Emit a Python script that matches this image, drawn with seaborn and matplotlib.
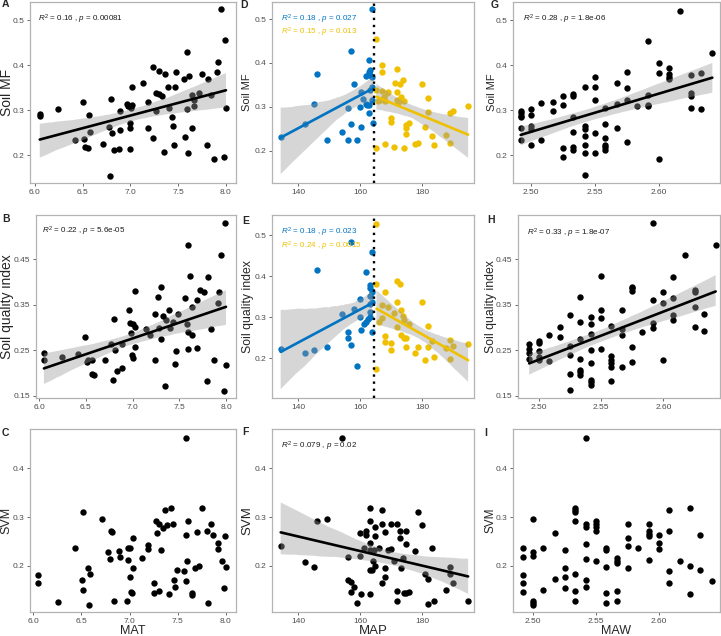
import numpy as np
import pandas as pd
import matplotlib
matplotlib.use("Agg")
import matplotlib.pyplot as plt
from matplotlib.collections import PolyCollection
import seaborn as sns

# ---- panel A: MAT vs Soil MF
mat_a = [6.05, 6.05, 6.24, 6.42, 6.50, 6.51, 6.52, 6.56, 6.57, 6.58, 6.71, 6.77, 6.79, 6.80, 6.81, 6.83, 6.88,
         6.89, 6.89, 6.96, 6.97, 6.99, 6.99, 7.00, 7.01, 7.02, 7.02, 7.13, 7.18, 7.18, 7.24, 7.24, 7.27, 7.27,
         7.30, 7.30, 7.33, 7.35, 7.36, 7.39, 7.40, 7.43, 7.45, 7.46, 7.47, 7.48, 7.57, 7.56, 7.59, 7.59, 7.60,
         7.61, 7.64, 7.64, 7.67, 7.67, 7.72, 7.75, 7.80, 7.81, 7.84, 7.87, 7.91, 7.92, 7.95, 7.98, 7.99, 8.00]
mf_a = [0.292, 0.286, 0.302, 0.233, 0.319, 0.235, 0.217, 0.216, 0.288, 0.251, 0.224, 0.263, 0.154, 0.324, 0.250,
        0.212, 0.213, 0.297, 0.255, 0.314, 0.308, 0.214, 0.272, 0.260, 0.305, 0.311, 0.351, 0.361, 0.317, 0.260,
        0.396, 0.238, 0.338, 0.299, 0.387, 0.335, 0.332, 0.206, 0.379, 0.352, 0.304, 0.285, 0.264, 0.223, 0.352,
        0.384, 0.241, 0.369, 0.428, 0.303, 0.205, 0.375, 0.260, 0.333, 0.310, 0.322, 0.338, 0.379, 0.222, 0.370,
        0.334, 0.192, 0.384, 0.406, 0.524, 0.195, 0.456, 0.305]

# ---- panel B: MAT vs soil quality index
mat_b = [6.05, 6.05, 6.24, 6.42, 6.49, 6.51, 6.52, 6.56, 6.56, 6.59, 6.70, 6.77, 6.79, 6.80, 6.81, 6.83, 6.89,
         6.89, 6.96, 6.97, 6.98, 6.99, 7.00, 7.00, 7.02, 7.02, 7.02, 7.14, 7.19, 7.24, 7.24, 7.27, 7.28, 7.30,
         7.30, 7.33, 7.35, 7.36, 7.39, 7.40, 7.43, 7.46, 7.45, 7.49, 7.56, 7.58, 7.59, 7.59, 7.59, 7.61, 7.64,
         7.64, 7.69, 7.69, 7.72, 7.76, 7.80, 7.81, 7.84, 7.87, 7.91, 7.93, 7.95, 7.98, 7.99, 8.00]
sqi_b = [0.245, 0.230, 0.235, 0.243, 0.280, 0.225, 0.229, 0.228, 0.198, 0.196, 0.228, 0.265, 0.185, 0.319, 0.250,
         0.205, 0.212, 0.263, 0.338, 0.310, 0.289, 0.239, 0.233, 0.307, 0.302, 0.258, 0.381, 0.296, 0.284, 0.329,
         0.228, 0.368, 0.300, 0.389, 0.275, 0.326, 0.173, 0.316, 0.338, 0.300, 0.313, 0.249, 0.221, 0.329, 0.364,
         0.307, 0.481, 0.291, 0.252, 0.414, 0.345, 0.283, 0.256, 0.361, 0.383, 0.378, 0.182, 0.411, 0.298, 0.228,
         0.354, 0.379, 0.459, 0.162, 0.529, 0.218]

# ---- panel C: MAT vs SVM
mat_c = [6.05, 6.05, 6.26, 6.43, 6.51, 6.52, 6.52, 6.57, 6.59, 6.58, 6.71, 6.78, 6.80, 6.81, 6.82, 6.84, 6.89,
         6.90, 6.97, 6.98, 6.98, 7.00, 7.00, 7.01, 7.02, 7.03, 7.03, 7.13, 7.19, 7.19, 7.25, 7.25, 7.27, 7.28,
         7.30, 7.31, 7.33, 7.35, 7.37, 7.39, 7.41, 7.43, 7.45, 7.46, 7.47, 7.49, 7.56, 7.58, 7.59, 7.59, 7.60,
         7.61, 7.65, 7.65, 7.68, 7.70, 7.72, 7.75, 7.80, 7.81, 7.84, 7.87, 7.92, 7.92, 7.96, 7.98, 7.99, 8.00]
svm_c = [0.182, 0.164, 0.126, 0.236, 0.171, 0.151, 0.311, 0.196, 0.184, 0.120, 0.296, 0.228, 0.213, 0.271, 0.270,
         0.127, 0.231, 0.218, 0.127, 0.237, 0.212, 0.236, 0.177, 0.146, 0.145, 0.258, 0.196, 0.215, 0.243, 0.234,
         0.165, 0.144, 0.293, 0.268, 0.149, 0.286, 0.232, 0.277, 0.314, 0.283, 0.141, 0.318, 0.285, 0.171, 0.157,
         0.191, 0.190, 0.463, 0.263, 0.168, 0.210, 0.292, 0.145, 0.140, 0.195, 0.270, 0.199, 0.318, 0.272, 0.124,
         0.286, 0.264, 0.246, 0.234, 0.210, 0.155, 0.262, 0.197]

# ---- panel D: MAP vs Soil MF, split at the breakpoint
map_d_lo = [134.3, 142.2, 145.2, 146.1, 149.2, 154.0, 155.9, 156.1, 157.0, 157.0, 158.0, 158.9, 160.0, 160.1,
            160.2, 161.0, 161.8, 161.9, 162.2, 162.8, 162.8, 162.8, 162.9, 163.0, 163.0, 163.0, 163.7, 163.9,
            163.9, 164.0, 163.7]
mf_d_lo = [0.230, 0.261, 0.307, 0.375, 0.224, 0.243, 0.298, 0.224, 0.261, 0.428, 0.353, 0.224, 0.299, 0.254,
           0.333, 0.317, 0.306, 0.370, 0.304, 0.380, 0.286, 0.304, 0.406, 0.373, 0.384, 0.339, 0.367, 0.523,
           0.345, 0.264, 0.316]
map_d_hi = [165.2, 165.2, 165.2, 165.8, 166.5, 166.9, 166.9, 167.1, 167.7, 168.0, 168.0, 168.5, 169.0, 169.9,
            169.9, 170.8, 171.2, 171.7, 171.9, 172.0, 172.3, 172.7, 172.8, 173.0, 173.9, 174.0, 174.0, 174.8,
            174.8, 174.8, 175.7, 177.6, 178.5, 180.0, 180.9, 181.9, 181.9, 183.0, 183.9, 187.8, 188.9, 189.1,
            190.0, 194.8]
mf_d_hi = [0.454, 0.339, 0.207, 0.313, 0.316, 0.396, 0.380, 0.335, 0.323, 0.312, 0.215, 0.331, 0.334, 0.274,
           0.266, 0.208, 0.354, 0.316, 0.386, 0.334, 0.308, 0.316, 0.352, 0.323, 0.362, 0.312, 0.207, 0.259,
           0.237, 0.252, 0.262, 0.214, 0.217, 0.352, 0.254, 0.320, 0.289, 0.234, 0.213, 0.236, 0.217, 0.285,
           0.291, 0.302]

# ---- panel E: MAP vs soil quality index
map_e_lo = [134.3, 142.2, 145.2, 146.1, 149.2, 154.0, 155.9, 156.1, 157.0, 157.0, 158.0, 158.9, 160.0, 160.0,
            160.1, 161.1, 161.9, 162.0, 162.6, 163.0, 163.0, 163.0, 163.0, 163.0, 163.2, 163.7, 163.9, 163.9,
            163.7]
sqi_e_lo = [0.223, 0.212, 0.219, 0.415, 0.228, 0.307, 0.263, 0.249, 0.482, 0.232, 0.320, 0.180, 0.344, 0.301,
            0.269, 0.283, 0.289, 0.409, 0.295, 0.378, 0.370, 0.352, 0.331, 0.312, 0.301, 0.362, 0.459, 0.263,
            0.338]
map_e_hi = [165.2, 165.2, 165.2, 166.0, 166.9, 167.1, 168.0, 168.0, 168.0, 169.0, 169.9, 169.9, 171.0, 171.9,
            172.0, 172.0, 172.8, 173.0, 173.0, 173.9, 174.0, 174.1, 174.9, 174.9, 175.7, 177.6, 178.7, 180.0,
            180.9, 181.9, 181.9, 183.0, 183.9, 187.7, 188.9, 188.9, 190.0, 194.8]
sqi_e_hi = [0.528, 0.382, 0.174, 0.289, 0.330, 0.297, 0.361, 0.255, 0.239, 0.326, 0.236, 0.221, 0.310, 0.388,
            0.338, 0.275, 0.382, 0.318, 0.257, 0.303, 0.293, 0.250, 0.250, 0.228, 0.284, 0.212, 0.228, 0.338,
            0.196, 0.279, 0.227, 0.242, 0.204, 0.224, 0.245, 0.198, 0.229, 0.234]

# ---- panel F: MAP vs SVM
map_f = [134.3, 142.2, 145.2, 146.1, 149.2, 154.0, 155.9, 156.1, 157.0, 157.0, 158.0, 158.9, 160.0, 160.0, 160.1,
         161.1, 161.9, 162.0, 163.0, 163.0, 163.0, 163.0, 163.0, 163.0, 163.7, 164.0, 164.3, 164.9, 164.9, 164.9,
         166.0, 166.9, 166.9, 166.9, 168.0, 168.0, 168.0, 169.0, 169.9, 169.9, 171.0, 171.9, 172.0, 172.0, 172.8,
         172.8, 173.0, 173.9, 174.1, 174.9, 174.9, 174.9, 175.7, 177.7, 178.7, 179.8, 180.9, 181.9, 181.9, 183.0,
         183.9, 187.8, 188.9, 188.9, 190.0, 194.8]
svm_f = [0.240, 0.208, 0.197, 0.292, 0.296, 0.463, 0.218, 0.171, 0.167, 0.147, 0.157, 0.124, 0.268, 0.221, 0.141,
         0.237, 0.271, 0.263, 0.318, 0.292, 0.246, 0.232, 0.191, 0.141, 0.191, 0.210, 0.232, 0.279, 0.262, 0.199,
         0.237, 0.314, 0.286, 0.165, 0.270, 0.195, 0.176, 0.232, 0.285, 0.235, 0.210, 0.285, 0.149, 0.127, 0.271,
         0.258, 0.195, 0.215, 0.145, 0.271, 0.245, 0.145, 0.147, 0.231, 0.311, 0.284, 0.183, 0.172, 0.121, 0.237,
         0.127, 0.151, 0.197, 0.183, 0.164, 0.127]

# ---- panel G: MAW vs Soil MF
maw_g = [2.492, 2.492, 2.492, 2.492, 2.492, 2.492, 2.500, 2.500, 2.500, 2.500, 2.500, 2.508, 2.508, 2.517, 2.517,
         2.525, 2.525, 2.525, 2.525, 2.533, 2.533, 2.533, 2.533, 2.533, 2.533, 2.542, 2.542, 2.542, 2.542, 2.542,
         2.542, 2.542, 2.550, 2.550, 2.550, 2.550, 2.550, 2.558, 2.558, 2.558, 2.558, 2.558, 2.558, 2.567, 2.567,
         2.567, 2.575, 2.575, 2.575, 2.575, 2.583, 2.592, 2.592, 2.592, 2.592, 2.600, 2.600, 2.600, 2.608, 2.608,
         2.608, 2.608, 2.617, 2.625, 2.625, 2.625, 2.625, 2.633, 2.633, 2.642]
mf_g = [0.298, 0.293, 0.287, 0.284, 0.260, 0.233, 0.302, 0.289, 0.264, 0.259, 0.223, 0.316, 0.234, 0.319, 0.298,
        0.331, 0.312, 0.215, 0.195, 0.336, 0.332, 0.284, 0.251, 0.217, 0.212, 0.351, 0.264, 0.259, 0.242, 0.222,
        0.205, 0.155, 0.373, 0.351, 0.322, 0.250, 0.205, 0.305, 0.270, 0.239, 0.223, 0.218, 0.212, 0.360, 0.313,
        0.260, 0.384, 0.350, 0.322, 0.229, 0.310, 0.454, 0.333, 0.311, 0.308, 0.404, 0.382, 0.192, 0.394, 0.379,
        0.373, 0.368, 0.521, 0.378, 0.337, 0.331, 0.304, 0.382, 0.302, 0.427]

# ---- panel H: MAW vs soil quality index
maw_h = [2.492, 2.492, 2.492, 2.492, 2.500, 2.500, 2.500, 2.500, 2.500, 2.508, 2.508, 2.517, 2.517, 2.525, 2.525,
         2.525, 2.525, 2.525, 2.533, 2.533, 2.533, 2.533, 2.533, 2.533, 2.533, 2.542, 2.542, 2.542, 2.542, 2.542,
         2.542, 2.542, 2.542, 2.550, 2.550, 2.550, 2.550, 2.558, 2.558, 2.558, 2.558, 2.558, 2.558, 2.567, 2.567,
         2.567, 2.567, 2.575, 2.575, 2.575, 2.575, 2.575, 2.583, 2.592, 2.592, 2.592, 2.592, 2.600, 2.600, 2.600,
         2.608, 2.608, 2.608, 2.608, 2.617, 2.625, 2.625, 2.625, 2.625, 2.633, 2.633, 2.642]
sqi_h = [0.264, 0.252, 0.245, 0.232, 0.270, 0.266, 0.248, 0.235, 0.229, 0.284, 0.226, 0.302, 0.280, 0.327, 0.259,
         0.240, 0.199, 0.164, 0.368, 0.313, 0.276, 0.231, 0.207, 0.202, 0.196, 0.323, 0.309, 0.286, 0.250, 0.223,
         0.186, 0.181, 0.174, 0.414, 0.339, 0.320, 0.252, 0.304, 0.237, 0.230, 0.223, 0.213, 0.183, 0.339, 0.298,
         0.283, 0.213, 0.390, 0.387, 0.381, 0.257, 0.225, 0.290, 0.529, 0.361, 0.310, 0.299, 0.379, 0.354, 0.229,
         0.411, 0.365, 0.328, 0.317, 0.459, 0.383, 0.378, 0.346, 0.301, 0.330, 0.292, 0.481]

# ---- panel I: MAW vs SVM
maw_i = [2.492, 2.492, 2.492, 2.492, 2.492, 2.500, 2.500, 2.500, 2.500, 2.500, 2.500, 2.508, 2.508, 2.517, 2.517,
         2.525, 2.525, 2.525, 2.525, 2.533, 2.533, 2.533, 2.533, 2.533, 2.533, 2.533, 2.542, 2.542, 2.542, 2.542,
         2.542, 2.542, 2.542, 2.550, 2.550, 2.550, 2.550, 2.550, 2.558, 2.558, 2.558, 2.558, 2.558, 2.567, 2.567,
         2.567, 2.567, 2.567, 2.575, 2.575, 2.575, 2.575, 2.583, 2.592, 2.592, 2.592, 2.592, 2.592, 2.600, 2.600,
         2.600, 2.608, 2.608, 2.608, 2.608, 2.617, 2.625, 2.625, 2.625, 2.633, 2.633, 2.642]
svm_i = [0.237, 0.218, 0.182, 0.164, 0.147, 0.296, 0.229, 0.221, 0.128, 0.123, 0.119, 0.236, 0.151, 0.268, 0.172,
         0.232, 0.196, 0.176, 0.155, 0.319, 0.314, 0.310, 0.292, 0.184, 0.149, 0.127, 0.463, 0.286, 0.280, 0.245,
         0.214, 0.171, 0.156, 0.292, 0.286, 0.279, 0.271, 0.210, 0.236, 0.232, 0.197, 0.145, 0.124, 0.215, 0.210,
         0.206, 0.148, 0.127, 0.285, 0.258, 0.240, 0.195, 0.237, 0.286, 0.272, 0.266, 0.262, 0.212, 0.263, 0.246,
         0.234, 0.314, 0.271, 0.190, 0.165, 0.210, 0.318, 0.199, 0.141, 0.263, 0.192, 0.168]

BLUE = "#0073C2"
YELLOW = "#EFC000"

sns.set_style("white")
plt.rcParams['font.family'] = ['Liberation Sans', 'DejaVu Sans']
plt.rcParams['mathtext.fontset'] = 'custom'
plt.rcParams['mathtext.rm'] = 'Liberation Sans'
plt.rcParams['mathtext.it'] = 'Liberation Sans:italic'

W, H = 721, 636
fig = plt.figure(figsize=(W / 100, H / 100), dpi=100)


def make_ax(l, t, r, b):
    ax = fig.add_axes([l / W, 1 - b / H, (r - l) / W, (b - t) / H])
    ax._px = (l, t, r, b)
    return ax


def fit(ax, x, y, color):
    sns.regplot(x=x, y=y, ax=ax, ci=95, seed=0, truncate=True,
                scatter_kws={'s': 21, 'color': color, 'linewidths': 0, 'alpha': 1},
                line_kws={'color': color, 'lw': 1.9})
    # ggplot-like grey ribbon drawn over the points
    for c in ax.collections:
        if isinstance(c, PolyCollection):
            c.set_alpha(None)
            c.set_facecolor((0.6, 0.6, 0.6, 0.4))
            c.set_edgecolor('none')


def dots(ax, x, y):
    sns.scatterplot(x=x, y=y, ax=ax, s=21, color='black', linewidth=0)


def style(ax, xlim, ylim, xt, yt, xfmt, yfmt, ylabel, ysize, ylab_x, xlabel=None, xsize=9):
    l, t, r, b = ax._px
    ax.set_xlim(xlim)
    ax.set_ylim(ylim)
    ax.set_xticks(xt)
    ax.set_xticklabels([xfmt.format(v) for v in xt])
    ax.set_yticks(yt)
    ax.set_yticklabels([yfmt.format(v) for v in yt])
    ax.tick_params(labelsize=6, labelcolor='#4d4d4d', color='#4d4d4d', length=2.5, width=0.6, pad=1.5,
                   bottom=True, left=True)
    for s in ax.spines.values():
        s.set_color('#b3b3b3')
        s.set_linewidth(0.9)
    ax.set_ylabel(ylabel, fontsize=ysize)
    ax.yaxis.set_label_coords((ylab_x - l) / (r - l), 0.5)
    ax.yaxis.label.set_va('center')
    if xlabel:
        ax.set_xlabel(xlabel, fontsize=xsize)
        ax.xaxis.set_label_coords(0.5, (b - 631) / (b - t))
        ax.xaxis.label.set_va('center')
    else:
        ax.set_xlabel('')


def note(ax, x, y, txt, color='#1a1a1a'):
    ax.text(x, y, txt, transform=ax.transAxes, fontsize=5.8, color=color, ha='left', va='center')


# column 1
ax = make_ax(30, 2, 236, 183)
fit(ax, mat_a, mf_a, 'black')
style(ax, (5.948, 8.105), (0.138, 0.540), [6.0, 6.5, 7.0, 7.5, 8.0], [0.2, 0.3, 0.4, 0.5],
      '{:.1f}', '{:.1f}', 'Soil MF', 10, 7)
note(ax, 0.04, 0.905, r'$R^2$ = 0.16 , $p$ = 0.00081')

ax = make_ax(36, 215, 236, 398)
fit(ax, mat_b, sqi_b, 'black')
style(ax, (5.965, 8.107), (0.1456, 0.547), [6.0, 6.5, 7.0, 7.5, 8.0], [0.15, 0.25, 0.35, 0.45],
      '{:.1f}', '{:.2f}', 'Soil quality index', 10, 7)
note(ax, 0.03, 0.908, r'$R^2$ = 0.22 , $p$ = 5.6e-05')

ax = make_ax(30, 429, 236, 612)
dots(ax, mat_c, svm_c)
style(ax, (5.966, 8.104), (0.105, 0.481), [6.0, 6.5, 7.0, 7.5, 8.0], [0.2, 0.3, 0.4],
      '{:.1f}', '{:.1f}', 'SVM', 9, 6, 'MAT', 9)

# column 2
ax = make_ax(272, 2, 474, 183)
fit(ax, map_d_lo, mf_d_lo, BLUE)
fit(ax, map_d_hi, mf_d_hi, YELLOW)
ax.axvline(164.5, color='black', ls=(0, (1, 2)), lw=1.7, zorder=3)
style(ax, (131.5, 196.7), (0.126, 0.539), [140, 160, 180], [0.2, 0.3, 0.4, 0.5],
      '{:.0f}', '{:.1f}', 'Soil MF', 8, 247)
note(ax, 0.043, 0.905, r'$R^2$ = 0.18 , $p$ = 0.027', BLUE)
note(ax, 0.043, 0.833, r'$R^2$ = 0.15 , $p$ = 0.013', YELLOW)

ax = make_ax(272, 215, 474, 398)
fit(ax, map_e_lo, sqi_e_lo, BLUE)
fit(ax, map_e_hi, sqi_e_hi, YELLOW)
ax.axvline(164.5, color='black', ls=(0, (1, 2)), lw=1.7, zorder=3)
style(ax, (131.5, 196.7), (0.103, 0.549), [140, 160, 180], [0.2, 0.3, 0.4, 0.5],
      '{:.0f}', '{:.1f}', 'Soil quality index', 8.8, 248)
note(ax, 0.043, 0.903, r'$R^2$ = 0.18 , $p$ = 0.023', BLUE)
note(ax, 0.043, 0.827, r'$R^2$ = 0.24 , $p$ = 0.0015', YELLOW)

ax = make_ax(272, 429, 474, 612)
fit(ax, map_f, svm_f, 'black')
style(ax, (131.5, 196.7), (0.105, 0.481), [140, 160, 180], [0.2, 0.3, 0.4],
      '{:.0f}', '{:.1f}', 'SVM', 9.5, 247, 'MAP', 9.5)
note(ax, 0.043, 0.903, r'$R^2$ = 0.079 , $p$ = 0.02')

# column 3
ax = make_ax(513, 2, 720, 183)
fit(ax, maw_g, mf_g, 'black')
style(ax, (2.486, 2.648), (0.138, 0.540), [2.50, 2.55, 2.60], [0.2, 0.3, 0.4, 0.5],
      '{:.2f}', '{:.1f}', 'Soil MF', 8, 492)
note(ax, 0.05, 0.905, r'$R^2$ = 0.28 , $p$ = 1.8e-06')

ax = make_ax(518, 215, 720, 398)
fit(ax, maw_h, sqi_h, 'black')
style(ax, (2.483, 2.6455), (0.1456, 0.547), [2.50, 2.55, 2.60], [0.15, 0.25, 0.35, 0.45],
      '{:.2f}', '{:.2f}', 'Soil quality index', 8.8, 491)
note(ax, 0.045, 0.9, r'$R^2$ = 0.33 , $p$ = 1.8e-07')

ax = make_ax(513, 429, 720, 612)
dots(ax, maw_i, svm_i)
style(ax, (2.484, 2.6485), (0.105, 0.481), [2.50, 2.55, 2.60], [0.2, 0.3, 0.4],
      '{:.2f}', '{:.1f}', 'SVM', 8.5, 491, 'MAW', 9)

# panel letters
for lab, px, py in [('A', 2, 4), ('B', 2, 219), ('C', 2, 433), ('D', 240, 5), ('E', 242, 221),
                    ('F', 242, 432), ('G', 491, 5), ('H', 487, 220), ('I', 484, 433)]:
    fig.text(px / W, 1 - py / H, lab, fontsize=7.5, fontweight='bold', ha='left', va='center')

fig.savefig('out.png', dpi=100)
